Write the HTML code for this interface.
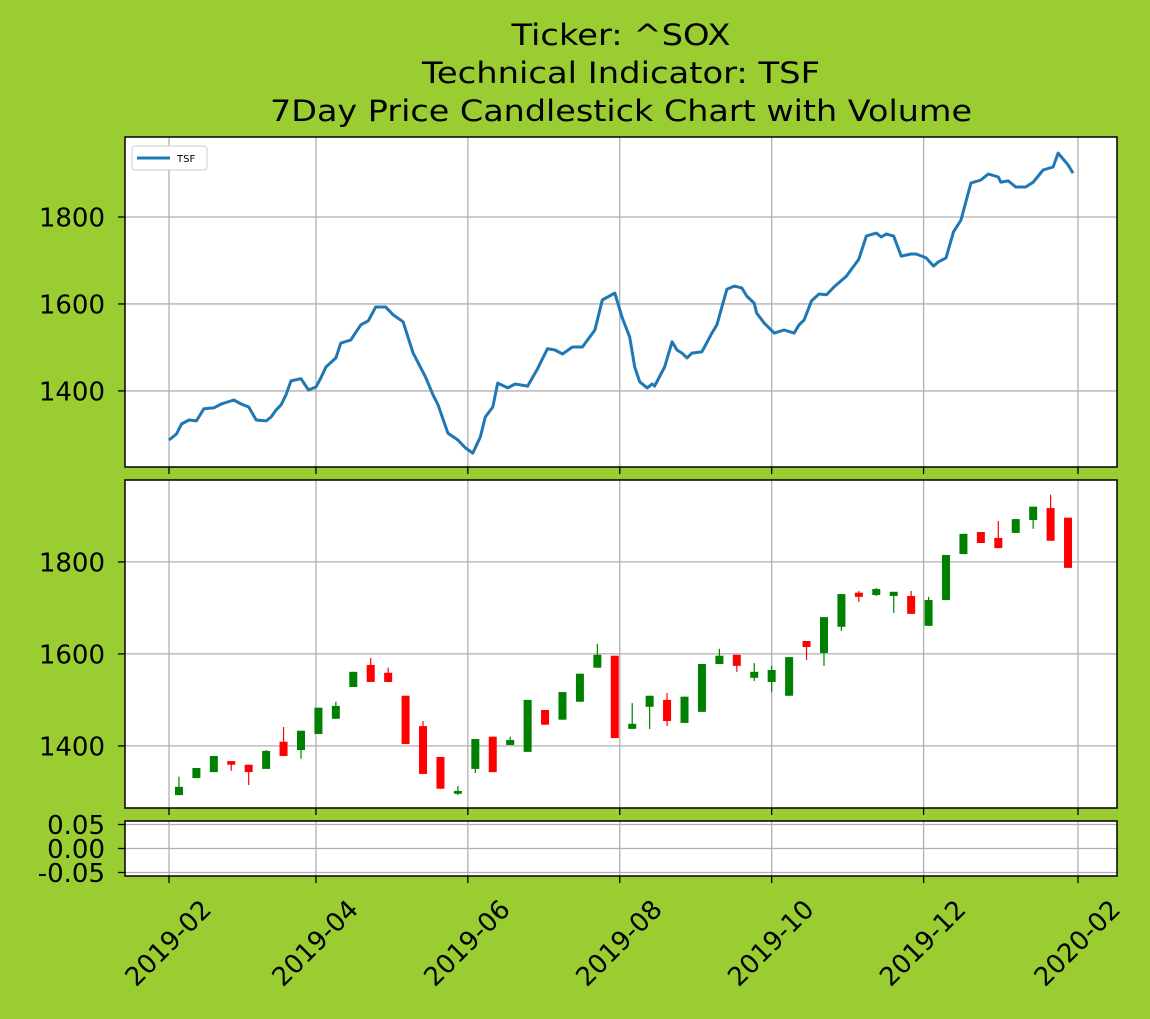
<!DOCTYPE html>
<html><head><meta charset="utf-8"><style>
body{margin:0;background:#9acd32;}
svg{display:block;font-family:"DejaVu Sans","Liberation Sans",sans-serif;}
</style></head><body>
<svg id="chart" width="1150" height="1019" xmlns="http://www.w3.org/2000/svg">
<rect width="1150" height="1019" fill="#9acd32"/>
<g font-size="29" text-anchor="middle" fill="#000">
<text x="621" y="45" textLength="219" lengthAdjust="spacingAndGlyphs">Ticker: ^SOX</text>
<text x="621" y="83" textLength="398" lengthAdjust="spacingAndGlyphs">Technical Indicator: TSF</text>
<text x="621" y="121" textLength="702" lengthAdjust="spacingAndGlyphs">7Day Price Candlestick Chart with Volume</text>
</g>
</svg>
<script>
const xTickLabels=["2019-02","2019-04","2019-06","2019-08","2019-10","2019-12","2020-02"];
const xTickDays=[0,59,120,181,242,303,365];
const tsfDays=[0,3,5,8,11,14,18,21,26,29,32,35,39,41,43,45,47,49,53,56,59,61,63,67,69,73,77,80,83,87,90,94,98,103,106,108,112,116,119,122,125,127,130,132,136,139,144,148,152,155,158,162,166,171,174,179,182,185,187,189,192,194,195,199,202,204,206,208,210,214,218,220,224,227,230,232,235,236,239,243,247,251,253,255,258,261,264,267,272,277,280,284,286,288,291,294,298,300,304,307,309,312,315,318,322,326,329,333,334,337,340,344,347,351,355,357,361,363];
const tsfValues=[1287,1301,1324,1333,1331,1359,1361,1370,1379,1370,1363,1333,1331,1340,1356,1368,1391,1423,1428,1402,1409,1430,1455,1476,1510,1517,1552,1561,1593,1593,1575,1559,1487,1432,1391,1368,1303,1287,1269,1257,1294,1340,1363,1418,1407,1416,1411,1451,1497,1494,1485,1501,1501,1540,1609,1625,1568,1524,1455,1421,1407,1416,1411,1455,1513,1494,1487,1476,1487,1490,1533,1552,1634,1641,1637,1618,1602,1579,1556,1533,1540,1533,1552,1563,1607,1623,1621,1639,1664,1703,1756,1763,1754,1761,1756,1710,1715,1715,1706,1687,1697,1706,1766,1793,1878,1885,1899,1892,1880,1883,1869,1869,1880,1908,1915,1947,1920,1901];
const candleStartDay=4;
const openV=[1293,1330,1343,1367,1359,1350,1409,1391,1426,1459,1528,1576,1559,1509,1443,1376,1296,1350,1420,1402,1387,1478,1457,1496,1570,1596,1437,1485,1500,1450,1474,1578,1598,1548,1539,1509,1628,1602,1659,1733,1728,1726,1726,1661,1717,1817,1865,1852,1863,1891,1917,1896];
const highV=[1333,1352,1378,1367,1359,1391,1441,1433,1483,1496,1561,1591,1570,1509,1454,1376,1313,1415,1420,1420,1500,1478,1517,1557,1622,1596,1493,1509,1515,1507,1578,1611,1598,1580,1574,1593,1628,1680,1730,1737,1743,1735,1737,1724,1815,1861,1865,1889,1893,1920,1946,1896];
const lowV=[1293,1330,1343,1346,1315,1350,1378,1372,1426,1459,1528,1539,1539,1404,1339,1307,1293,1341,1343,1402,1387,1446,1457,1496,1570,1417,1437,1437,1443,1450,1474,1578,1561,1541,1517,1509,1587,1574,1650,1713,1726,1689,1687,1661,1717,1817,1841,1830,1863,1872,1846,1787];
const closeV=[1311,1352,1378,1359,1343,1389,1378,1433,1483,1487,1561,1539,1539,1404,1339,1307,1302,1415,1343,1413,1500,1446,1517,1557,1598,1417,1448,1509,1454,1507,1578,1596,1574,1561,1565,1593,1615,1680,1730,1724,1741,1735,1687,1717,1815,1861,1841,1830,1893,1920,1846,1787];
const y1Ticks=[1400,1600,1800];
const y2Ticks=[1400,1600,1800];
const y3Ticks=[0.05,0,-0.05];
const y3Labels=["0.05","0.00","-0.05"];

const NS="http://www.w3.org/2000/svg";
const svg=document.getElementById('chart');
function mk(tag,attrs,parent){const e=document.createElementNS(NS,tag);for(const k in attrs)e.setAttribute(k,attrs[k]);(parent||svg).appendChild(e);return e;}
const L=125,R=1117;
const xS=d=>169+d*(1078-169)/365;
const panels=[
 {top:137,bot:467,min:1225,max:1984,ticks:y1Ticks,labels:y1Ticks.map(String),name:'tsf-panel'},
 {top:480,bot:808,min:1265,max:1978,ticks:y2Ticks,labels:y2Ticks.map(String),name:'candle-panel'},
 {top:821,bot:876,min:-0.0573,max:0.0573,ticks:y3Ticks,labels:y3Labels,name:'volume-panel'}
];
panels.forEach(p=>{p.y=v=>p.bot-(v-p.min)/(p.max-p.min)*(p.bot-p.top);});
panels.forEach(p=>{
 const g=mk('g',{});
 
 
 mk('rect',{x:L,y:p.top,width:R-L,height:p.bot-p.top,fill:'#fff'},g);
 xTickDays.forEach(d=>{const x=xS(d);
  const gl=mk('line',{x1:x,x2:x,y1:p.top,y2:p.bot,stroke:'#b0b0b0','stroke-width':1.3},g);
  
  
  mk('line',{x1:x,x2:x,y1:p.bot,y2:p.bot+7,stroke:'#000','stroke-width':1.3},g);});
 p.ticks.forEach((t,i)=>{const y=p.y(t);
  const gl=mk('line',{x1:L,x2:R,y1:y,y2:y,stroke:'#b0b0b0','stroke-width':1.3},g);
  
  
  mk('line',{x1:L-7,x2:L,y1:y,y2:y,stroke:'#000','stroke-width':1.3},g);
  const tx=mk('text',{x:L-20,y:y+9.5,'font-size':26,'text-anchor':'end',fill:'#000'},g);
  tx.textContent=p.labels[i];
  
  });
 p.g=g;
});
const p1=panels[0];
let dpath=tsfDays.map((d,i)=>(i?'L':'M')+xS(d).toFixed(1)+','+p1.y(tsfValues[i]).toFixed(1)).join(' ');
const line=mk('path',{d:dpath,fill:'none',stroke:'#1f77b4','stroke-width':3,'stroke-linejoin':'round'},p1.g);


const p2=panels[1];
openV.forEach((o,i)=>{
 const c=closeV[i],x=xS(candleStartDay+7*i),col=c>=o?'#008000':'#ff0000';
 const g=mk('g',{},p2.g);
 
 
 mk('line',{x1:x,x2:x,y1:p2.y(highV[i]),y2:p2.y(lowV[i]),stroke:col,'stroke-width':1.2},g);
 const yt=p2.y(Math.max(o,c)),yb=p2.y(Math.min(o,c));
 mk('rect',{x:x-4,y:yt,width:8,height:Math.max(1.5,yb-yt),fill:col},g);
});
panels.forEach(p=>{const f=mk('rect',{x:L,y:p.top,width:R-L,height:p.bot-p.top,fill:'none',stroke:'#000','stroke-width':1.5});
 
 });
const lg=mk('g',{});


mk('rect',{x:132,y:146,width:75,height:24,rx:3,fill:'#fff',stroke:'#ccc','stroke-width':1},lg);
mk('line',{x1:137,x2:170,y1:158,y2:158,stroke:'#1f77b4','stroke-width':3},lg);
const lt=mk('text',{x:177,y:162,'font-size':10,fill:'#000'},lg);
lt.textContent='TSF';


xTickDays.forEach((d,i)=>{const cx=xS(d)-1,cy=943;
 const t=mk('text',{x:cx,y:cy+9,'font-size':26,'text-anchor':'middle',fill:'#000',transform:`rotate(-45 ${cx} ${cy})`});
 t.textContent=xTickLabels[i];
 
 });
</script>
</body></html>
